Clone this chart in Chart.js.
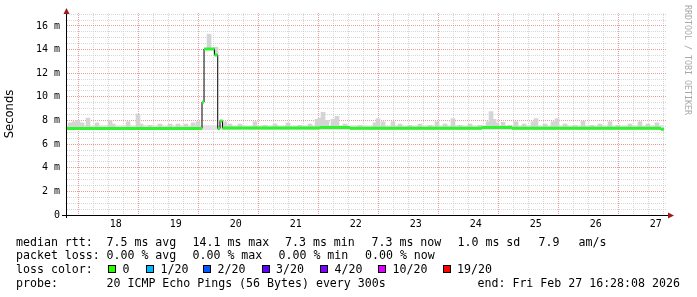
<!DOCTYPE html>
<html>
<head>
<meta charset="utf-8">
<script src="https://cdn.jsdelivr.net/npm/chart.js@4.4.1/dist/chart.umd.min.js"></script>
<style>
  html, body { margin: 0; padding: 0; background: #fff; }
  #wrap { position: relative; width: 697px; height: 297px; overflow: hidden; background: #fff; }
  #chart { position: absolute; left: 0; top: 0; }
  .txt { position: absolute; font-family: "DejaVu Sans Mono", monospace; font-size: 11.6px; line-height: 14px; color: #000; white-space: pre; }
  .box { position: absolute; width: 6px; height: 6px; border: 1px solid #000; }
  #mark { position: absolute; left: 683px; top: 5px; writing-mode: vertical-rl; font-family: "DejaVu Sans Mono", monospace; font-size: 8.3px; line-height: 9px; color: #a8a8a8; white-space: pre; }
</style>
</head>
<body>
<div id="wrap">
  <canvas id="chart" width="697" height="297"></canvas>
  <div id="mark">RRDTOOL / TOBI OETIKER</div>
</div>
<script>
// time axis in day-of-month (Feb), 10 days ending Fri Feb 27 16:28
const startDay = 17.686;
const endDay = 27.686;
const dayTicks = [18, 19, 20, 21, 22, 23, 24, 25, 26, 27];

// median rtt steps: value (ms) from each day onward
const medianDay   = [17.686, 19.936, 19.970, 20.144, 20.198, 20.236, 20.278, 21.900, 22.400, 24.600, 25.100, 27.586];
const medianValue = [7.33,   9.55,   14.05,  13.55,  7.33,   7.95,   7.36,   7.40,   7.34,   7.40,   7.34,   7.25];
const lastSampleDay = 27.636;

// smoke (spread of the 20 pings)
const smokeDay = [17.736, 17.803, 17.869, 17.936, 18.036, 18.186, 18.403, 18.453, 18.703, 18.869,
  18.919, 19.069, 19.236, 19.403, 19.536, 19.669, 19.786, 19.869, 20.053, 20.169,
  20.319, 20.403, 20.569, 20.819, 20.986, 21.153, 21.369, 21.569, 21.736, 21.853,
  21.903, 21.953, 22.019, 22.119, 22.186, 22.319, 22.569, 22.819, 22.869, 22.953,
  23.119, 23.236, 23.403, 23.569, 23.736, 23.853, 23.986, 24.119, 24.236, 24.403,
  24.569, 24.703, 24.753, 24.803, 24.853, 24.953, 25.069, 25.169, 25.303, 25.453,
  25.503, 25.653, 25.786, 25.853, 25.986, 26.153, 26.286, 26.436, 26.569, 26.736,
  26.869, 27.069, 27.236, 27.369, 27.519];
const smokeLow = [7.3, 7.3, 7.3, 7.3, 7.3, 7.3, 7.3, 7.3, 7.3, 7.3,
  7.3, 7.3, 7.3, 7.3, 7.3, 7.3, 7.3, 7.3, 14.1, 13.5,
  7.3, 7.3, 7.3, 7.3, 7.3, 7.3, 7.3, 7.3, 7.3, 7.3,
  7.3, 7.3, 7.3, 7.3, 7.3, 7.3, 7.3, 7.3, 7.3, 7.3,
  7.3, 7.3, 7.3, 7.3, 7.3, 7.3, 7.3, 7.3, 7.3, 7.3,
  7.3, 7.3, 7.3, 7.3, 7.3, 7.3, 7.3, 7.3, 7.3, 7.3,
  7.3, 7.3, 7.3, 7.3, 7.3, 7.3, 7.3, 7.3, 7.3, 7.3,
  7.3, 7.3, 7.3, 7.3, 7.3];
const smokeHigh = [7.8, 7.9, 8.0, 7.8, 8.2, 7.8, 8.0, 7.7, 7.9, 8.55,
  7.7, 7.6, 7.7, 7.7, 7.7, 7.7, 7.8, 7.9, 15.3, 14.2,
  7.9, 7.7, 7.7, 7.9, 7.6, 7.7, 7.8, 7.6, 7.7, 8.1,
  8.2, 8.7, 8.0, 8.1, 8.35, 7.7, 7.6, 7.8, 8.15, 7.9,
  7.9, 7.7, 7.6, 7.7, 7.6, 7.9, 7.7, 8.15, 7.6, 7.7,
  7.6, 7.9, 8.75, 8.1, 7.8, 7.85, 7.6, 7.9, 7.7, 7.9,
  8.15, 7.7, 7.9, 8.15, 7.7, 7.6, 7.95, 7.6, 7.7, 7.9,
  7.6, 7.7, 7.9, 7.7, 7.8];
const bandDay  = [17.686, 27.636];
const bandLow  = [7.2, 7.2];
const bandHigh = [7.6, 7.6];

// y axis (ms)
const yMax = 17.1;
const yLabelValues = [0, 2, 4, 6, 8, 10, 12, 14, 16];

// loss colours
const lossLabels = ['0', '1/20', '2/20', '3/20', '4/20', '10/20', '19/20'];
const lossColors = ['#26ff00', '#00b8ff', '#0059ff', '#5e00ff', '#7e00ff', '#dd00ff', '#ff0000'];

const gridGray = 'rgba(200,200,200,0.75)';
const gridRed = 'rgba(232,130,130,0.8)';
const lineGreen = '#2bf52b';

// green median pieces, horizontal only
const greenPts = [];
medianDay.forEach((d, i) => {
    const next = i + 1 < medianDay.length ? medianDay[i + 1] : lastSampleDay;
    greenPts.push({x: d, y: medianValue[i]}, {x: next, y: medianValue[i]}, {x: next, y: null});
});
// thin black step line joining the pieces
const blackPts = medianDay.map((d, i) => ({x: d, y: medianValue[i]}));
blackPts.push({x: lastSampleDay, y: medianValue[medianValue.length - 1]});

const xGrid = [];
for (let v = Math.ceil(startDay * 4) / 4; v <= endDay; v += 0.25) xGrid.push(v);
const yGrid = [];
for (let v = 0; v <= yMax; v += 0.5) yGrid.push(v);

// axes with arrows, drawn on top
const axisArrows = {
    id: 'axisArrows',
    afterDraw(chart) {
        const {ctx, chartArea: a} = chart;
        ctx.save();
        ctx.strokeStyle = '#000';
        ctx.lineWidth = 1;
        ctx.beginPath();
        ctx.moveTo(a.left - 5, a.bottom + 0.5);
        ctx.lineTo(a.right + 1, a.bottom + 0.5);
        ctx.moveTo(a.left - 0.5, a.bottom + 3);
        ctx.lineTo(a.left - 0.5, a.top);
        ctx.stroke();
        ctx.fillStyle = '#9c1c1c';
        ctx.beginPath();
        ctx.moveTo(a.right + 1, a.bottom - 2.5);
        ctx.lineTo(a.right + 7, a.bottom + 0.5);
        ctx.lineTo(a.right + 1, a.bottom + 3.5);
        ctx.fill();
        ctx.beginPath();
        ctx.moveTo(a.left - 3.5, a.top + 1);
        ctx.lineTo(a.left - 0.5, a.top - 5);
        ctx.lineTo(a.left + 2.5, a.top + 1);
        ctx.fill();
        ctx.restore();
    }
};

new Chart(document.getElementById('chart').getContext('2d'), {
    type: 'bar',
    data: {
        datasets: [
            {
                type: 'line', label: 'median', data: greenPts, order: 1,
                borderColor: lineGreen, borderWidth: 3, borderCapStyle: 'butt',
                pointRadius: 0, spanGaps: false, tension: 0
            },
            {
                type: 'line', label: 'median step', data: blackPts, order: 2,
                borderColor: '#000', borderWidth: 1, stepped: true,
                pointRadius: 0, tension: 0
            },
            {
                type: 'bar', label: 'smoke', order: 3, grouped: false,
                data: smokeDay.map((d, i) => ({x: d, y: [smokeLow[i], smokeHigh[i]]})),
                backgroundColor: '#d4d4d4', barThickness: 4, borderWidth: 0
            },
            {
                type: 'line', label: 'band high', order: 4,
                data: bandDay.map((d, i) => ({x: d, y: bandHigh[i]})),
                borderWidth: 0, pointRadius: 0, fill: '+1', backgroundColor: '#e2e2e2'
            },
            {
                type: 'line', label: 'band low', order: 5,
                data: bandDay.map((d, i) => ({x: d, y: bandLow[i]})),
                borderWidth: 0, pointRadius: 0, fill: false
            }
        ]
    },
    options: {
        responsive: false,
        animation: false,
        devicePixelRatio: 1,
        layout: {padding: {left: 0, right: 30, top: 13, bottom: 62}},
        plugins: {legend: {display: false}, tooltip: {enabled: false}},
        scales: {
            x: {
                type: 'linear', min: startDay, max: endDay, offset: false,
                afterBuildTicks: axis => { axis.ticks = xGrid.map(v => ({value: v})); },
                afterFit: s => { s.height = 20; },
                grid: {
                    drawTicks: false, lineWidth: 1,
                    color: c => (c.tick && Number.isInteger(c.tick.value)) ? gridRed : gridGray
                },
                border: {display: false, dash: [1, 1]},
                ticks: {
                    autoSkip: false, maxRotation: 0, minRotation: 0, padding: 3, color: '#000',
                    font: {family: 'DejaVu Sans Mono', size: 10},
                    callback: v => {
                        const d = dayTicks.find(t => Math.abs(t + 0.5 - v) < 1e-6);
                        return d === undefined ? '' : String(d);
                    }
                }
            },
            y: {
                type: 'linear', min: 0, max: yMax,
                afterBuildTicks: axis => { axis.ticks = yGrid.map(v => ({value: v})); },
                afterFit: s => { s.width = 67; },
                grid: {
                    drawTicks: false, lineWidth: 1,
                    color: c => (c.tick && yLabelValues.includes(c.tick.value)) ? gridRed : gridGray
                },
                border: {display: false, dash: [1, 1]},
                title: {
                    display: true, text: 'Seconds', color: '#000',
                    font: {family: 'DejaVu Sans', size: 11.6}, padding: {top: 3, bottom: 0}
                },
                ticks: {
                    autoSkip: false, padding: 7, color: '#000',
                    font: {family: 'DejaVu Sans Mono', size: 10},
                    callback: v => yLabelValues.includes(v) ? (v === 0 ? '0' : v + ' m') : ''
                }
            }
        }
    },
    plugins: [axisArrows]
});

// legend lines under the graph
const wrap = document.getElementById('wrap');
function addText(x, y, text) {
    const el = document.createElement('div');
    el.className = 'txt';
    el.style.left = x + 'px';
    el.style.top = y + 'px';
    el.textContent = text;
    wrap.appendChild(el);
}
const rttLine = [[16, 'median rtt:'], [106.5, '7.5 ms avg'], [192.5, '14.1 ms max'], [285, '7.3 ms min'],
    [371.5, '7.3 ms now'], [457.5, '1.0 ms sd'], [538.5, '7.9'], [578.5, 'am/s']];
const lossLine = [[16, 'packet loss:'], [106.5, '0.00 % avg'], [192.5, '0.00 % max'], [278.5, '0.00 % min'], [365, '0.00 % now']];
rttLine.forEach(([x, t]) => addText(x, 234.5, t));
lossLine.forEach(([x, t]) => addText(x, 248.2, t));
addText(16, 262, 'loss color:');
const boxX = [108, 146, 203, 261.5, 320, 378, 442.5];
lossLabels.forEach((lab, i) => {
    const b = document.createElement('div');
    b.className = 'box';
    b.style.left = boxX[i] + 'px';
    b.style.top = '265px';
    b.style.background = lossColors[i];
    wrap.appendChild(b);
    addText(boxX[i] + 14.5, 262, lab);
});
addText(16, 275.7, 'probe:');
addText(106.5, 275.7, '20 ICMP Echo Pings (56 Bytes) every 300s');
addText(477.5, 275.7, 'end: Fri Feb 27 16:28:08 2026');
</script>
</body>
</html>
